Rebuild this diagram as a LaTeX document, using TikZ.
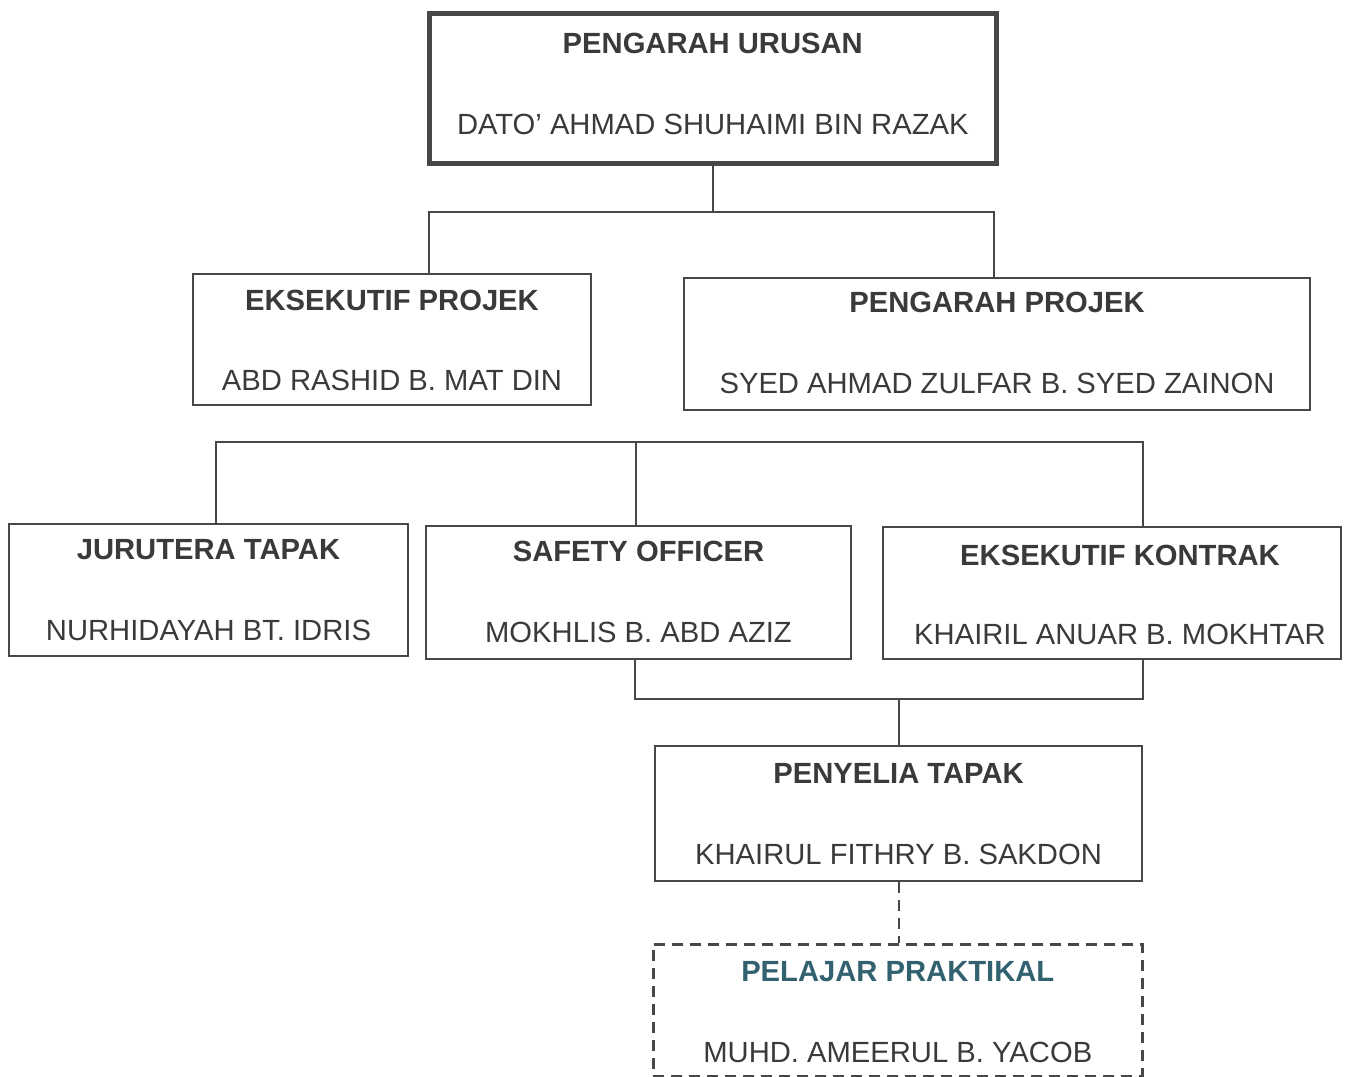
\documentclass[tikz,border=0pt]{standalone}
\usepackage{fontspec}
\setmainfont{Liberation Sans}
\definecolor{ln}{HTML}{474747}
\definecolor{tx}{HTML}{3A3A3A}
\definecolor{tl}{RGB}{50,98,112}
\begin{document}
\begin{tikzpicture}[x=0.5pt,y=-0.5pt,
  box/.style={draw=ln, line width=1pt, inner sep=0pt, anchor=north west},
  topbox/.style={box, line width=2.3pt},
  dbox/.style={box, line width=1.3pt, dash pattern=on 5.5pt off 3.5pt},
  ttl/.style={font=\fontsize{14.6}{17}\selectfont\bfseries, text=tx, inner sep=0pt},
  nm/.style={font=\fontsize{14.6}{17}\selectfont, text=tx, inner sep=0pt},
  conn/.style={draw=ln, line width=1pt},
  dconn/.style={conn, line width=1.3pt, dash pattern=on 5.5pt off 3.5pt}]
\useasboundingbox (0,0) rectangle (1357,1077);
% boxes
\node[topbox, minimum width=283.5pt, minimum height=75pt] (pu) at (427,11) {};
\node[box, minimum width=199pt, minimum height=65.5pt] (ep) at (192,273) {};
\node[box, minimum width=313pt, minimum height=66pt] (pp) at (683,277) {};
\node[box, minimum width=199.5pt, minimum height=66pt] (jt) at (8,523) {};
\node[box, minimum width=212.5pt, minimum height=66.5pt] (so) at (425,525) {};
\node[box, minimum width=229pt, minimum height=66pt] (ek) at (882,526) {};
\node[box, minimum width=243.5pt, minimum height=67.5pt] (pt) at (654,745) {};
\node[dbox, minimum width=244.5pt, minimum height=66pt] (pl) at (652,943) {};
% texts
\node[ttl] (pu-t) at ([yshift=-16pt]pu.north) {PENGARAH URUSAN};
\node[nm] (pu-n) at ([yshift=20.5pt]pu.south) {DATO’ AHMAD SHUHAIMI BIN RAZAK};
\node[ttl] (ep-t) at ([yshift=-13.5pt]ep.north) {EKSEKUTIF PROJEK};
\node[nm] (ep-n) at ([yshift=13pt]ep.south) {ABD RASHID B. MAT DIN};
\node[ttl] (pp-t) at ([yshift=-12.5pt]pp.north) {PENGARAH PROJEK};
\node[nm] (pp-n) at ([yshift=14pt]pp.south) {SYED AHMAD ZULFAR B. SYED ZAINON};
\node[ttl] (jt-t) at ([yshift=-13.5pt]jt.north) {JURUTERA TAPAK};
\node[nm] (jt-n) at ([yshift=13.5pt]jt.south) {NURHIDAYAH BT. IDRIS};
\node[ttl] (so-t) at ([yshift=-13pt]so.north) {SAFETY OFFICER};
\node[nm] (so-n) at ([yshift=14pt]so.south) {MOKHLIS B. ABD AZIZ};
\node[ttl] (ek-t) at ([xshift=4pt,yshift=-14.5pt]ek.north) {EKSEKUTIF KONTRAK};
\node[nm] (ek-n) at ([xshift=4pt,yshift=13pt]ek.south) {KHAIRIL ANUAR B. MOKHTAR};
\node[ttl] (pt-t) at ([yshift=-14pt]pt.north) {PENYELIA TAPAK};
\node[nm] (pt-n) at ([yshift=14pt]pt.south) {KHAIRUL FITHRY B. SAKDON};
\node[ttl, text=tl] (pl-t) at ([yshift=-14.5pt]pl.north) {PELAJAR PRAKTIKAL};
\node[nm] (pl-n) at ([yshift=12.5pt]pl.south) {MUHD. AMEERUL B. YACOB};
% junction coordinates
\coordinate (a1) at (429,212);
\coordinate (a2) at (994,212);
\coordinate (b1) at (216,442);
\coordinate (b2) at (636,442);
\coordinate (b3) at (1143,442);
\coordinate (c1) at (635,699);
\coordinate (c2) at (1143,699);
\coordinate (c3) at (899,699);
% connectors
\draw[conn] (pu.south) -- (pu.south |- a1);
\draw[conn] (ep.north -| a1) -- (a1) -- (a2) -- (pp.north -| a2);
\draw[conn] (pp.south -| a2) -- (pp.south -| a2 |- b1);
\draw[conn] (jt.north -| b1) -- (b1) -- (b3) -- (ek.north -| b3);
\draw[conn] (b2) -- (so.north -| b2);
\draw[conn] (so.south -| c1) -- (c1) -- (c2) -- (ek.south -| c2);
\draw[conn] (c3) -- (pt.north -| c3);
\draw[dconn] (pt.south -| c3) -- (pl.north -| c3);
\end{tikzpicture}
\end{document}
